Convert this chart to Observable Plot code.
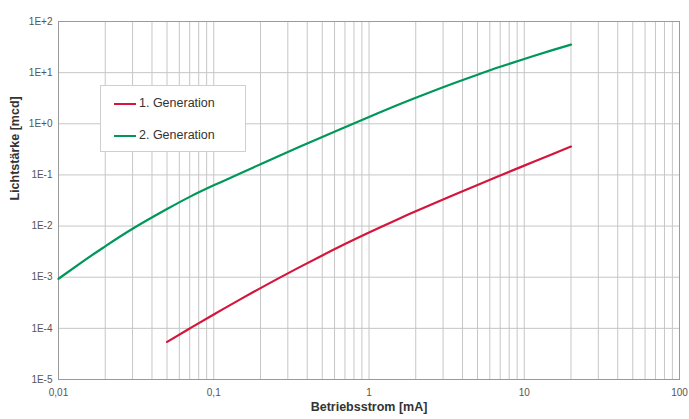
<!DOCTYPE html>
<html><head><meta charset="utf-8">
<script src="https://cdn.jsdelivr.net/npm/d3@7"></script>
<script src="https://cdn.jsdelivr.net/npm/@observablehq/plot@0.6"></script>
<style>
body{margin:0;background:#fff;font-family:"Liberation Sans",Arial,sans-serif;}
#wrap{position:relative;width:689px;height:419px;}
#legend{position:absolute;left:100px;top:85px;width:146px;height:67px;background:#fff;border:1px solid #cfcfcf;box-sizing:border-box;font-size:12.5px;color:#333;}
.item{position:absolute;left:13px;height:16px;line-height:16px;}
.item span.sw{display:inline-block;width:22px;height:2px;vertical-align:middle;margin-right:3px;}
</style>
</head><body>
<div id="wrap"><div id="legend"></div></div>
<script>
// Data
const seriesNames = ["1. Generation", "2. Generation"];
const seriesColors = ["#d4163c", "#00975a"];
const gen1Current = [0.05, 0.07, 0.1, 0.15, 0.2, 0.3, 0.5, 0.7, 1, 1.5, 2, 3, 5, 7, 10, 15, 20];
const gen1Light   = [5.43e-5, 9.95e-5, 1.87e-4, 3.77e-4, 6.12e-4, 1.19e-3, 2.67e-3, 4.46e-3, 7.5e-3, 0.0132, 0.0195, 0.0332, 0.0638, 0.0975, 0.152, 0.252, 0.359];
const gen2Current = [0.01, 0.015, 0.02, 0.03, 0.05, 0.07, 0.1, 0.15, 0.2, 0.3, 0.5, 0.7, 1, 1.5, 2, 3, 5, 7, 10, 15, 20];
const gen2Light   = [0.000933, 0.00223, 0.00402, 0.00885, 0.0215, 0.0372, 0.0625, 0.109, 0.162, 0.280, 0.552, 0.857, 1.36, 2.27, 3.22, 5.20, 9.12, 13.0, 18.5, 27.2, 35.3];
const xTicks = [0.01, 0.1, 1, 10, 100];
const xTickLabels = ["0,01", "0,1", "1", "10", "100"];
const yTicks = [1e-5, 1e-4, 1e-3, 1e-2, 1e-1, 1, 10, 100];
const yTickLabels = ["1E-5", "1E-4", "1E-3", "1E-2", "1E-1", "1E+0", "1E+1", "1E+2"];
const xLabel = "Betriebsstrom [mA]";
const yLabel = "Lichtstärke [mcd]";

const xGrid = [];
for (const d of [0.01, 0.1, 1, 10]) for (let k = 1; k <= 9; k++) xGrid.push(d * k);
xGrid.push(100);

const g1 = gen1Current.map((x, i) => ({x, y: gen1Light[i]}));
const g2 = gen2Current.map((x, i) => ({x, y: gen2Light[i]}));

const chart = Plot.plot({
  width: 689, height: 419,
  marginLeft: 58, marginRight: 10, marginTop: 21, marginBottom: 40,
  style: {fontFamily: '"Liberation Sans",Arial,sans-serif', background: "#fff"},
  x: {type: "log", domain: [0.01, 100]},
  y: {type: "log", domain: [1e-5, 100]},
  marks: [
    Plot.gridX(xGrid, {stroke: "#c6c6c6", strokeOpacity: 1, strokeWidth: 1}),
    Plot.gridY(yTicks, {stroke: "#c6c6c6", strokeOpacity: 1, strokeWidth: 1}),
    Plot.frame({stroke: "#9a9a9a", strokeWidth: 1}),
    Plot.axisX(xTicks, {tickSize: 0, tickPadding: 9, fontSize: 10, fill: "#555", tickFormat: d => xTickLabels[xTicks.indexOf(d)], label: null}),
    Plot.axisY(yTicks, {tickSize: 0, tickPadding: 6, fontSize: 10, fill: "#555", tickFormat: d => yTickLabels[yTicks.indexOf(d)], label: null}),
    Plot.line(g1, {x: "x", y: "y", stroke: seriesColors[0], strokeWidth: 2.2, curve: "natural"}),
    Plot.line(g2, {x: "x", y: "y", stroke: seriesColors[1], strokeWidth: 2.2, curve: "natural"}),
    Plot.text([xLabel], {frameAnchor: "bottom", dy: 31, fontSize: 12.5, fontWeight: "bold", fill: "#333"}),
    Plot.text([yLabel], {frameAnchor: "left", dx: -44, rotate: -90, fontSize: 12.5, fontWeight: "bold", fill: "#333"})
  ]
});
const wrap = document.getElementById("wrap");
wrap.insertBefore(chart, wrap.firstChild);
const legend = document.getElementById("legend");
seriesNames.forEach((n, i) => {
  const d = document.createElement("div");
  d.className = "item";
  d.style.top = (i === 0 ? 9 : 41) + "px";
  d.innerHTML = `<span class="sw" style="background:${seriesColors[i]}"></span>${n}`;
  legend.appendChild(d);
});
</script>
</body></html>
